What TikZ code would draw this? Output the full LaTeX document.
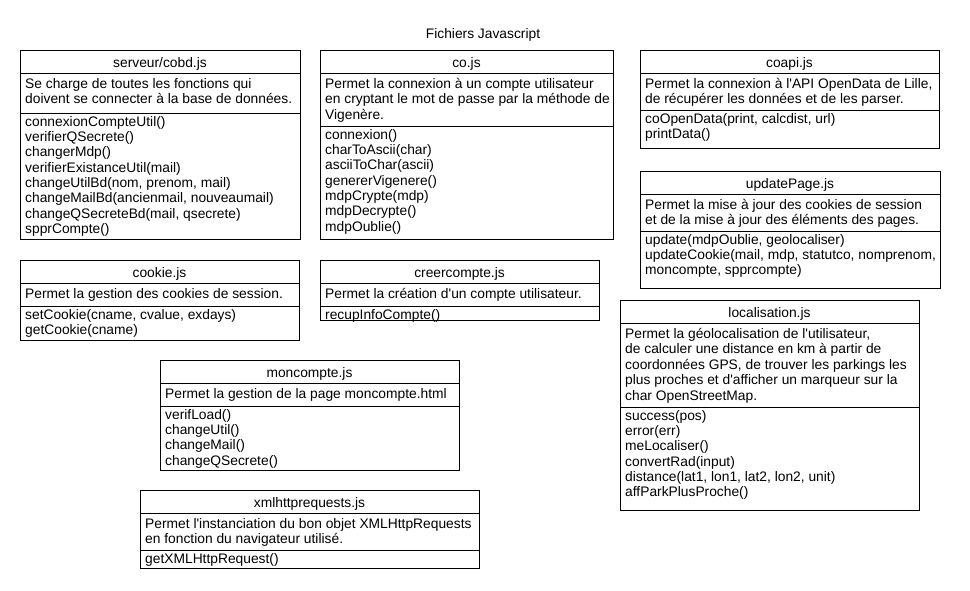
\documentclass[tikz,border=0pt]{standalone}
\usepackage{fontspec}
\setmainfont{Liberation Sans}
\newcommand\ap{\textquotesingle}
\newcommand\umlclass[9]{%
  \draw[frame] (#2,#3) rectangle (#4,#5);
  \draw[frame] (#2,{#3+23}) -- (#4,{#3+23});
  \draw[frame] (#2,#6) -- (#4,#6);
  \node[titletext] (#1-t) at ({(#2+#4)/2},{#3+13.5}) {#7};
  \node[bodytext] (#1-d) at ({#2+5},{#3+23}) {\rule{0pt}{15pt}#8};
  \node[methtext] (#1-m) at ({#2+5},#6) {\rule{0pt}{13pt}#9};
}
\begin{document}
\begin{tikzpicture}[x=1pt,y=-1pt,
  frame/.style={draw=black,line width=1pt},
  titletext/.style={inner sep=0pt,font=\fontsize{13.8}{15.5}\selectfont},
  bodytext/.style={anchor=north west,inner sep=0pt,align=left,font=\fontsize{13.8}{15.5}\selectfont},
  methtext/.style={anchor=north west,inner sep=0pt,align=left,font=\fontsize{13.8}{15.3}\selectfont}]
\useasboundingbox[fill=white] (0,0) rectangle (970,590);
\node[titletext] (heading) at (483,35) {Fichiers Javascript};

\umlclass{cobd}{20}{50}{300}{239}{113}{serveur/cobd.js}
  {Se charge de toutes les fonctions qui\\doivent se connecter à la base de données.}
  {connexionCompteUtil()\\verifierQSecrete()\\changerMdp()\\verifierExistanceUtil(mail)\\changeUtilBd(nom, prenom, mail)\\changeMailBd(ancienmail, nouveaumail)\\changeQSecreteBd(mail, qsecrete)\\spprCompte()}

\umlclass{co}{320}{50}{613}{239}{126}{co.js}
  {Permet la connexion à un compte utilisateur\\en cryptant le mot de passe par la méthode de\\Vigenère.}
  {connexion()\\charToAscii(char)\\asciiToChar(ascii)\\genererVigenere()\\mdpCrypte(mdp)\\mdpDecrypte()\\mdpOublie()}

\umlclass{coapi}{640}{50}{939}{148}{110}{coapi.js}
  {Permet la connexion à l\ap API OpenData de Lille,\\de récupérer les données et de les parser.}
  {coOpenData(print, calcdist, url)\\printData()}

\umlclass{update}{640}{171}{940}{288}{231}{updatePage.js}
  {Permet la mise à jour des cookies de session\\et de la mise à jour des éléments des pages.}
  {update(mdpOublie, geolocaliser)\\updateCookie(mail, mdp, statutco, nomprenom,\\moncompte, spprcompte)}

\umlclass{cookie}{20}{260}{299}{340}{306}{cookie.js}
  {Permet la gestion des cookies de session.}
  {setCookie(cname, cvalue, exdays)\\getCookie(cname)}

\umlclass{creer}{320}{260}{599}{320}{306}{creercompte.js}
  {Permet la création d\ap un compte utilisateur.}
  {recupInfoCompte()}

\umlclass{loc}{620}{300}{919}{510}{407}{localisation.js}
  {Permet la géolocalisation de l\ap utilisateur,\\de calculer une distance en km à partir de\\coordonnées GPS, de trouver les parkings les\\plus proches et d\ap afficher un marqueur sur la\\char OpenStreetMap.}
  {success(pos)\\error(err)\\meLocaliser()\\convertRad(input)\\distance(lat1, lon1, lat2, lon2, unit)\\affParkPlusProche()}

\umlclass{moncpt}{160}{360}{459}{470}{406}{moncompte.js}
  {Permet la gestion de la page moncompte.html}
  {verifLoad()\\changeUtil()\\changeMail()\\changeQSecrete()}

\umlclass{xml}{140}{490}{479}{568}{550}{xmlhttprequests.js}
  {Permet l\ap instanciation du bon objet XMLHttpRequests\\en fonction du navigateur utilisé.}
  {getXMLHttpRequest()}
\end{tikzpicture}
\end{document}
